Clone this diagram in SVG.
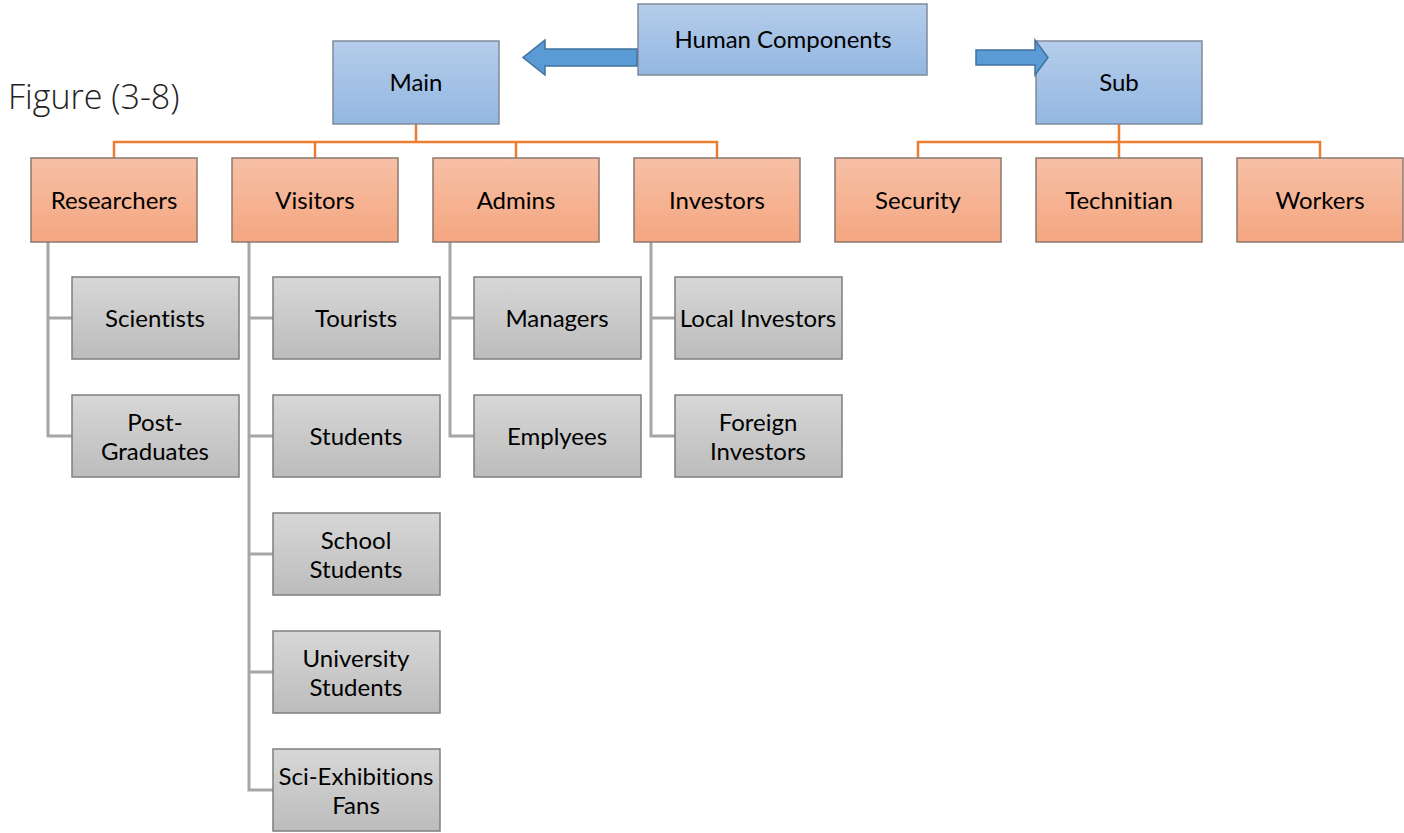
<svg xmlns="http://www.w3.org/2000/svg" width="1404" height="833" viewBox="0 0 1404 833">
<defs>
<linearGradient id="gb" x1="0" y1="0" x2="0" y2="1"><stop offset="0" stop-color="#b5cdea"/><stop offset="1" stop-color="#93b7e2"/></linearGradient>
<linearGradient id="go" x1="0" y1="0" x2="0" y2="1"><stop offset="0" stop-color="#f7c0a6"/><stop offset="1" stop-color="#f4a680"/></linearGradient>
<linearGradient id="gg" x1="0" y1="0" x2="0" y2="1"><stop offset="0" stop-color="#d7d7d7"/><stop offset="1" stop-color="#bcbcbc"/></linearGradient>
<style>
.b{fill:url(#gb);stroke:#7f8a99;stroke-width:1.5}
.o{fill:url(#go);stroke:#8c7a70;stroke-width:1.5}
.g{fill:url(#gg);stroke:#7f7f7f;stroke-width:1.5}
text{font-family:Lato,"Liberation Sans",sans-serif;font-size:24px;fill:#000;text-anchor:middle;font-variant-ligatures:none;font-feature-settings:"liga" 0,"clig" 0}
.oc{fill:none;stroke:#ed7d31;stroke-width:2.5}
.gc{fill:none;stroke:#a6a6a6;stroke-width:3}
.ar{fill:#5b9bd5;stroke:#41719c;stroke-width:1.5}
</style>
</defs>
<text x="8" y="109" style="font-family:'Open Sans',Lato,sans-serif;font-weight:300;font-size:34px;text-anchor:start;fill:#222">Figure (3-8)</text>
<g id="connectors">
<path class="oc" d="M416 124V142M114 158V142H717V158M315 142V158M516 142V158"/>
<path class="oc" d="M1119 124V142M918 158V142H1320V158M1119 142V158"/>
<path class="gc" d="M48 242V436H72M48 318H72"/>
<path class="gc" d="M249 242V790H273M249 318H273M249 436H273M249 554H273M249 672H273"/>
<path class="gc" d="M450 242V436H474M450 318H474"/>
<path class="gc" d="M651 242V436H675M651 318H675"/>
</g>
<g id="human"><rect class="b" x="638" y="4" width="289" height="71"/><text x="783" y="48">Human Components</text></g>
<g id="main"><rect class="b" x="333" y="41" width="166" height="83"/><text x="416" y="91">Main</text></g>
<g id="sub"><rect class="b" x="1036" y="41" width="166" height="83"/><text x="1119" y="91">Sub</text></g>
<g id="researchers"><rect class="o" x="31" y="158" width="166" height="84"/><text x="114" y="209">Researchers</text></g>
<g id="visitors"><rect class="o" x="232" y="158" width="166" height="84"/><text x="315" y="209">Visitors</text></g>
<g id="admins"><rect class="o" x="433" y="158" width="166" height="84"/><text x="516" y="209">Admins</text></g>
<g id="investors"><rect class="o" x="634" y="158" width="166" height="84"/><text x="717" y="209">Investors</text></g>
<g id="security"><rect class="o" x="835" y="158" width="166" height="84"/><text x="918" y="209">Security</text></g>
<g id="technitian"><rect class="o" x="1036" y="158" width="166" height="84"/><text x="1119" y="209">Technitian</text></g>
<g id="workers"><rect class="o" x="1237" y="158" width="166" height="84"/><text x="1320" y="209">Workers</text></g>
<g id="scientists"><rect class="g" x="72" y="277" width="167" height="82"/><text x="155" y="327">Scientists</text></g>
<g id="postgrad"><rect class="g" x="72" y="395" width="167" height="82"/><text x="155" y="431">Post-</text><text x="155" y="460">Graduates</text></g>
<g id="tourists"><rect class="g" x="273" y="277" width="167" height="82"/><text x="356" y="327">Tourists</text></g>
<g id="students"><rect class="g" x="273" y="395" width="167" height="82"/><text x="356" y="445">Students</text></g>
<g id="school"><rect class="g" x="273" y="513" width="167" height="82"/><text x="356" y="549">School</text><text x="356" y="578">Students</text></g>
<g id="university"><rect class="g" x="273" y="631" width="167" height="82"/><text x="356" y="667">University</text><text x="356" y="696">Students</text></g>
<g id="sciexh"><rect class="g" x="273" y="749" width="167" height="82"/><text x="356" y="785">Sci-Exhibitions</text><text x="356" y="814">Fans</text></g>
<g id="managers"><rect class="g" x="474" y="277" width="167" height="82"/><text x="557" y="327">Managers</text></g>
<g id="emplyees"><rect class="g" x="474" y="395" width="167" height="82"/><text x="557" y="445">Emplyees</text></g>
<g id="local"><rect class="g" x="675" y="277" width="167" height="82"/><text x="758" y="327">Local Investors</text></g>
<g id="foreign"><rect class="g" x="675" y="395" width="167" height="82"/><text x="758" y="431">Foreign</text><text x="758" y="460">Investors</text></g>
<g id="arrows">
<path class="ar" d="M637 49H545V40L523 57.5L545 75V66H637Z"/>
<path class="ar" d="M976 50H1035V40L1048 57.5L1035 75V65H976Z"/>
</g>
</svg>
